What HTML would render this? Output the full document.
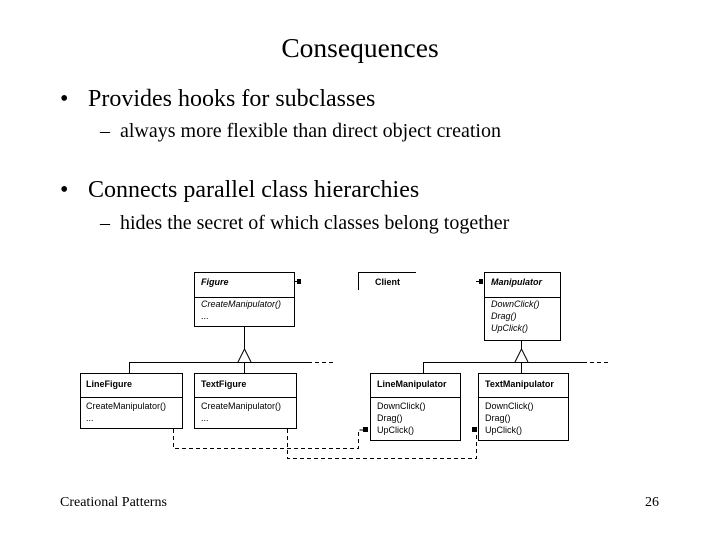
<!DOCTYPE html>
<html><head><meta charset="utf-8"><style>
body{margin:0;width:720px;height:540px;background:#fff;overflow:hidden;position:relative;font-family:"Liberation Serif",serif;color:#000}
.t{position:absolute;white-space:nowrap}
</style></head><body>
<div class="t" style="left:0;width:720px;text-align:center;top:32px;font-size:27.5px">Consequences</div>
<div class="t" style="left:60px;top:86px;font-size:24px">•</div>
<div class="t" style="left:88px;top:86px;font-size:24px">Provides hooks for subclasses</div>
<div class="t" style="left:100px;top:120px;font-size:20px">–</div>
<div class="t" style="left:120px;top:120px;font-size:20px">always more flexible than direct object creation</div>
<div class="t" style="left:60px;top:177px;font-size:24px">•</div>
<div class="t" style="left:88px;top:177px;font-size:24px">Connects parallel class hierarchies</div>
<div class="t" style="left:100px;top:212px;font-size:20px">–</div>
<div class="t" style="left:120px;top:212px;font-size:20px">hides the secret of which classes belong together</div>
<div class="t" style="left:60px;top:495px;font-size:14px">Creational Patterns</div>
<div class="t" style="left:645px;top:495px;font-size:14px">26</div>
<svg width="720" height="540" style="position:absolute;left:0;top:0" font-family="Liberation Sans, sans-serif" font-size="9">
<g fill="#fff" stroke="#000" stroke-width="1">
<rect x="194.5" y="272.5" width="100" height="54"/><line x1="194" y1="297.5" x2="295" y2="297.5"/>
<rect x="80.5" y="373.5" width="102" height="55"/><line x1="80" y1="397.5" x2="183" y2="397.5"/>
<rect x="194.5" y="373.5" width="102" height="55"/><line x1="194" y1="397.5" x2="297" y2="397.5"/>
<rect x="484.5" y="272.5" width="76" height="68"/><line x1="484" y1="297.5" x2="561" y2="297.5"/>
<rect x="370.5" y="373.5" width="90" height="67"/><line x1="370" y1="397.5" x2="461" y2="397.5"/>
<rect x="478.5" y="373.5" width="90" height="67"/><line x1="478" y1="397.5" x2="569" y2="397.5"/>
</g>
<g stroke="#000" fill="none">
<line x1="244.5" y1="327" x2="244.5" y2="349"/>
<path d="M238,362 L244.5,349 L251,362" />
<line x1="129.5" y1="362.5" x2="308" y2="362.5"/><line x1="308" y1="362.5" x2="334" y2="362.5" stroke-dasharray="4,3"/>
<line x1="129.5" y1="362" x2="129.5" y2="373"/><line x1="244.5" y1="362" x2="244.5" y2="373"/>
<line x1="521.5" y1="341" x2="521.5" y2="349"/>
<path d="M515,362 L521.5,349 L528,362"/>
<line x1="423.5" y1="362.5" x2="583" y2="362.5"/><line x1="583" y1="362.5" x2="608" y2="362.5" stroke-dasharray="4,3"/>
<line x1="423.5" y1="362" x2="423.5" y2="373"/><line x1="521.5" y1="362" x2="521.5" y2="373"/>
<path d="M358.5,290 V272.5 H416"/>
<path d="M173.5,429 V448.5 H358.5 V430 H364" stroke-dasharray="4,3"/>
<path d="M287.5,429 V458.5 H476.5 V430 H472" stroke-dasharray="4,3"/>
<line x1="295" y1="281.5" x2="298" y2="281.5"/><line x1="476" y1="281.5" x2="479" y2="281.5"/>
</g>
<g fill="#000">
<rect x="297" y="279" width="4" height="5"/><rect x="479" y="279" width="4" height="5"/>
<rect x="363" y="427" width="5" height="5"/><rect x="472" y="427" width="5" height="5"/>
</g>
<g font-weight="bold">
<text x="201" y="285" font-style="italic">Figure</text>
<text x="86" y="387">LineFigure</text>
<text x="201" y="387">TextFigure</text>
<text x="375" y="285">Client</text>
<text x="491" y="285" font-style="italic">Manipulator</text>
<text x="377" y="387">LineManipulator</text>
<text x="485" y="387">TextManipulator</text>
</g>
<text x="201" y="307" font-style="italic">CreateManipulator()</text><text x="201" y="319">...</text>
<text x="86" y="409">CreateManipulator()</text><text x="86" y="421">...</text>
<text x="201" y="409">CreateManipulator()</text><text x="201" y="421">...</text>
<g font-style="italic"><text x="491" y="307">DownClick()</text><text x="491" y="319">Drag()</text><text x="491" y="331">UpClick()</text></g>
<text x="377" y="409">DownClick()</text><text x="377" y="421">Drag()</text><text x="377" y="433">UpClick()</text>
<text x="485" y="409">DownClick()</text><text x="485" y="421">Drag()</text><text x="485" y="433">UpClick()</text>
</svg>
</body></html>
